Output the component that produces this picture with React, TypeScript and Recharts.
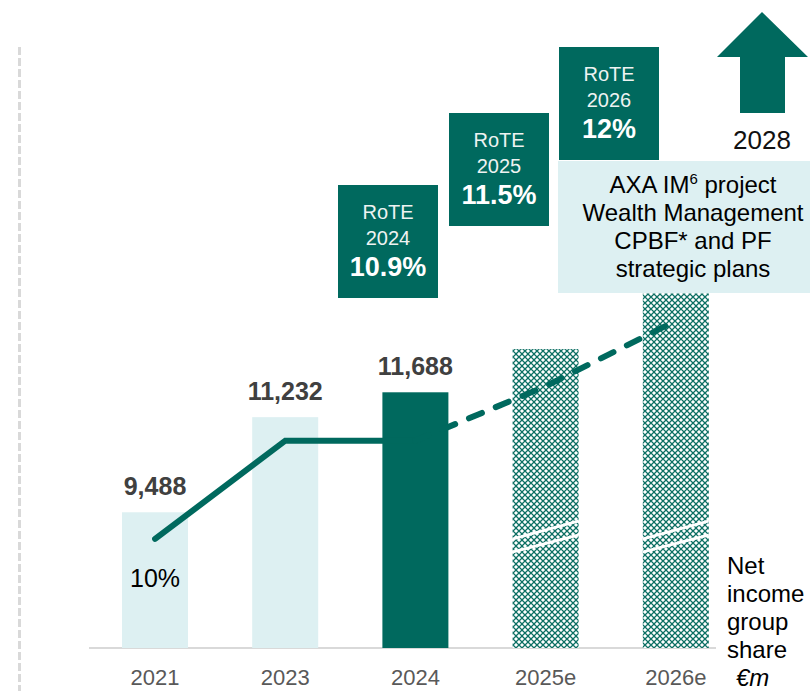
import React from "react";
import { ComposedChart, Bar, Line, XAxis, YAxis, Cell, LabelList } from "recharts";

// Net income group share (€m) and RoTE trajectory
const years = ["2021", "2023", "2024", "2025e", "2026e"];
const netIncome = [9488, 11232, 11688, 12480, 13500];
const netIncomeLabels = ["9,488", "11,232", "11,688", "", ""];
const barKinds = ["past", "past", "current", "plan", "plan"];
const roteLine = [10, 10.9, 10.9, 11.4, 12.0];

const roteBoxYears = ["2024", "2025", "2026"];
const roteBoxValues = ["10.9%", "11.5%", "12%"];
const planLines = ["AXA IM", "Wealth Management", "CPBF* and PF", "strategic plans"];
const unitLines = ["Net", "income", "group", "share"];

const GREEN = "#00695e";
const LIGHT = "#ddf0f2";
const FONT = "Arial, 'Liberation Sans', sans-serif";

const fills: Record<string, string> = {
  past: LIGHT,
  current: GREEN,
  plan: "url(#netHatch)",
};

const data = years.map((year, i) => ({
  year,
  netIncome: netIncome[i],
  label: netIncomeLabels[i],
  kind: barKinds[i],
  roteActual: i <= 2 ? roteLine[i] : null,
  roteTarget: i >= 2 ? roteLine[i] : null,
}));

// bar with the "axis break" marks on the estimated years
function NetBar(props: any) {
  const { x, y, width, height, payload, fill } = props;
  const bottom = y + height;
  const stripe = (yl: number, yr: number) =>
    `${x},${yl - 1.6} ${x + width},${yr - 1.6} ${x + width},${yr + 1.6} ${x},${yl + 1.6}`;
  return (
    <g>
      <rect x={x} y={y} width={width} height={height} fill={fill} />
      {payload.kind === "plan" && (
        <>
          <polygon points={stripe(bottom - 109, bottom - 127)} fill="#fff" />
          <polygon points={stripe(bottom - 96, bottom - 113)} fill="#fff" />
        </>
      )}
    </g>
  );
}

function FirstRoteLabel(props: any) {
  const { x, y, index, value } = props;
  if (index !== 0) return null;
  return (
    <text x={x} y={y + 39} textAnchor="middle" dominantBaseline="central" fill="#000" fontSize={25} fontFamily={FONT}>
      {`${value}%`}
    </text>
  );
}

const boxLeft = [338, 449, 559];
const boxTop = [185, 113, 47];

export default function App() {
  return (
    <div style={{ position: "absolute", left: 0, top: 0, width: 810, height: 691, overflow: "hidden", background: "#fff", fontFamily: FONT }}>
      {/* dashed separator on the left */}
      <div
        style={{
          position: "absolute", left: 18, top: 47, width: 3, height: 644,
          background: "repeating-linear-gradient(#d9d9d9 0 8px, transparent 8px 11px)",
        }}
      />
      {/* baseline */}
      <div style={{ position: "absolute", left: 89, top: 647, width: 627, height: 2, background: "#d9d9d9" }} />

      <div style={{ position: "absolute", left: 0, top: 0 }}>
        <ComposedChart width={810} height={691} data={data} margin={{ top: 48, right: 69, bottom: 13, left: 90 }}>
          <defs>
            <pattern id="netHatch" patternUnits="userSpaceOnUse" width={6} height={6}>
              <rect width={6} height={6} fill="#fff" />
              <path d="M0,0 L6,6 M6,0 L0,6" stroke="#0b6f63" strokeWidth={1.25} />
            </pattern>
          </defs>
          <XAxis
            dataKey="year"
            axisLine={false}
            tickLine={false}
            tickMargin={15}
            height={30}
            tick={{ fill: "#595959", fontSize: 22, fontFamily: FONT }}
          />
          <YAxis yAxisId="bar" hide domain={[7000, 18000]} />
          <YAxis yAxisId="rote" hide orientation="right" domain={[9, 14.5]} />
          <Bar yAxisId="bar" dataKey="netIncome" barSize={66} shape={<NetBar />} isAnimationActive={false}>
            {data.map((d, i) => (
              <Cell key={i} fill={fills[d.kind]} />
            ))}
            <LabelList
              dataKey="label"
              position="top"
              offset={17}
              fill="#404040"
              fontSize={25}
              fontWeight="bold"
              fontFamily={FONT}
            />
          </Bar>
          <Line
            yAxisId="rote"
            type="linear"
            dataKey="roteActual"
            stroke={GREEN}
            strokeWidth={6}
            strokeLinecap="round"
            dot={false}
            isAnimationActive={false}
          >
            <LabelList dataKey="roteActual" content={<FirstRoteLabel />} />
          </Line>
          <Line
            yAxisId="rote"
            type="linear"
            dataKey="roteTarget"
            stroke={GREEN}
            strokeWidth={6}
            strokeLinecap="round"
            strokeDasharray="14 15"
            dot={false}
            isAnimationActive={false}
          />
        </ComposedChart>
      </div>

      {/* RoTE boxes */}
      {roteBoxYears.map((yr, i) => (
        <div
          key={yr}
          style={{
            position: "absolute", left: boxLeft[i], top: boxTop[i], width: 100, height: 113,
            background: GREEN, color: "#fff", textAlign: "center", paddingTop: 14, boxSizing: "border-box",
          }}
        >
          <div style={{ fontSize: 20, lineHeight: "26px", color: "#eef3f2" }}>RoTE</div>
          <div style={{ fontSize: 20, lineHeight: "26px", color: "#eef3f2" }}>{yr}</div>
          <div style={{ fontSize: 27, lineHeight: "32px", fontWeight: "bold" }}>{roteBoxValues[i]}</div>
        </div>
      ))}

      {/* 2028 arrow */}
      <svg style={{ position: "absolute", left: 0, top: 0 }} width={810} height={120}>
        <polygon points="762,12 808,57 785,57 785,113 740,113 740,57 717,57" fill={GREEN} />
      </svg>
      <div style={{ position: "absolute", left: 712, top: 124, width: 100, textAlign: "center", fontSize: 26, lineHeight: "32px", color: "#111" }}>
        2028
      </div>

      {/* strategic plans box */}
      <div
        style={{
          position: "absolute", left: 558, top: 161, width: 270, height: 132, background: LIGHT,
          textAlign: "center", paddingTop: 10, boxSizing: "border-box", fontSize: 24, lineHeight: "28px", color: "#000",
        }}
      >
        {planLines.map((t, i) => (
          <div key={i}>
            {t}
            {i === 0 && (
              <>
                <sup style={{ fontSize: 15, lineHeight: 0 }}>6</sup> project
              </>
            )}
          </div>
        ))}
      </div>

      {/* unit label */}
      <div style={{ position: "absolute", left: 727, top: 552, fontSize: 24, lineHeight: "28px", color: "#000" }}>
        {unitLines.map((t) => (
          <div key={t}>{t}</div>
        ))}
        <div style={{ fontStyle: "italic", paddingLeft: 9 }}>€m</div>
      </div>
    </div>
  );
}
